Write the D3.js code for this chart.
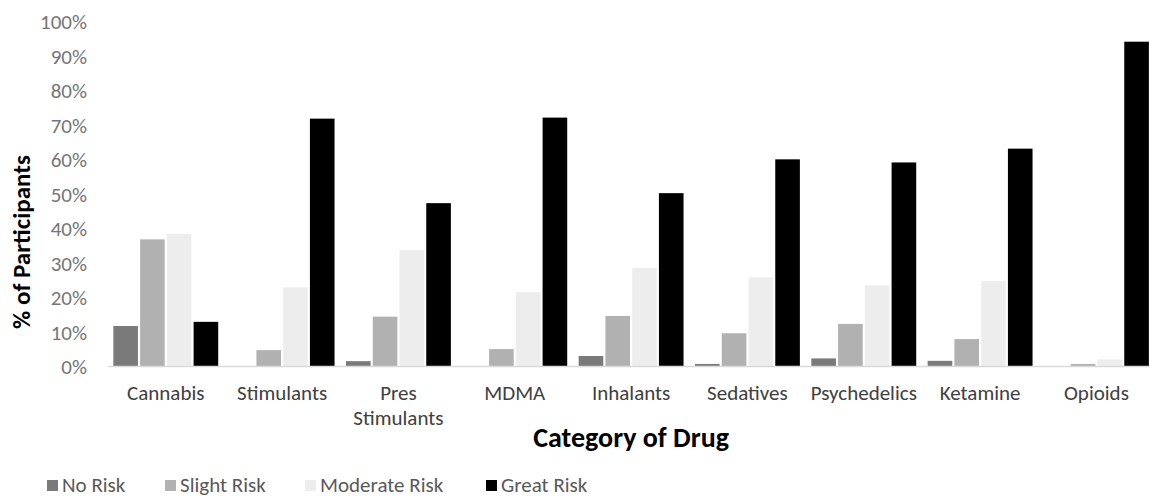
<!DOCTYPE html>
<html>
<head>
<meta charset="utf-8">
<script src="https://cdn.jsdelivr.net/npm/d3@7"></script>
<style>
  html, body { margin: 0; padding: 0; background: #fff; }
  svg { display: block; }
  text { font-family: Carlito, Calibri, Lato, sans-serif; }
</style>
</head>
<body>
<svg id="chart" width="1150" height="497"></svg>
<script>
const categories = ["Cannabis", "Stimulants", "Pres Stimulants", "MDMA", "Inhalants", "Sedatives", "Psychedelics", "Ketamine", "Opioids"];
const categoryLines = [["Cannabis"], ["Stimulants"], ["Pres", "Stimulants"], ["MDMA"], ["Inhalants"], ["Sedatives"], ["Psychedelics"], ["Ketamine"], ["Opioids"]];
const seriesNames = ["No Risk", "Slight Risk", "Moderate Risk", "Great Risk"];
const noRisk       = [11.6, 0.0, 1.4, 0.0, 2.9, 0.6, 2.2, 1.5, 0.0];
const slightRisk   = [36.7, 4.6, 14.3, 4.9, 14.5, 9.5, 12.2, 7.8, 0.6];
const moderateRisk = [38.3, 22.8, 33.6, 21.4, 28.4, 25.7, 23.4, 24.6, 1.9];
const greatRisk    = [12.8, 71.7, 47.2, 72.0, 50.1, 59.9, 59.0, 63.0, 94.0];
const yTicks = [0, 10, 20, 30, 40, 50, 60, 70, 80, 90, 100];
const seriesColors = ["#7a7a7a", "#b1b1b1", "#ededed", "#000000"];

const seriesValues = [noRisk, slightRisk, moderateRisk, greatRisk];
const svg = d3.select("#chart");

const x0 = d3.scaleBand().domain(categories).range([107.6, 1154.6]).padding(0);
const x1 = d3.scaleBand().domain(seriesNames)
  .range([x0.bandwidth() * 0.04, x0.bandwidth() * 0.96])
  .paddingInner(0.08).paddingOuter(0.04);
const y = d3.scaleLinear().domain([0, 100]).range([366, 21]);

// y tick labels
const yAxis = d3.axisLeft(y).tickValues(yTicks).tickFormat(d => d + "%").tickSize(0).tickPadding(0);
const gy = svg.append("g").attr("transform", "translate(87,0)").call(yAxis);
gy.select(".domain").remove();
gy.selectAll("text").attr("font-size", 21).attr("fill", "#767676")
  .style("font-family", "Carlito, Calibri, Lato, sans-serif").attr("dy", "0.38em");

// bars
const groups = svg.append("g").selectAll("g")
  .data(categories).join("g")
  .attr("transform", d => `translate(${x0(d)},0)`);
groups.selectAll("rect")
  .data((c, i) => seriesNames.map((s, j) => ({ s, j, v: seriesValues[j][i] })))
  .join("rect")
  .attr("x", d => x1(d.s))
  .attr("width", x1.bandwidth())
  .attr("y", d => y(d.v))
  .attr("height", d => y(0) - y(d.v))
  .attr("fill", d => seriesColors[d.j]);

// baseline
const xAxis = d3.axisBottom(x0).tickSize(0).tickFormat("");
const gx = svg.append("g").attr("transform", `translate(0,${y(0)})`).call(xAxis);
gx.select(".domain").attr("stroke", "#d9d9d9").attr("stroke-width", 1.5);

// x tick labels
const xl = svg.append("g").selectAll("text")
  .data(categories).join("text")
  .attr("x", d => x0(d) + x0.bandwidth() / 2)
  .attr("y", 400)
  .attr("text-anchor", "middle")
  .attr("font-size", 21)
  .attr("fill", "#404040");
xl.each(function(d, i) {
  const t = d3.select(this);
  categoryLines[i].forEach((line, k) => {
    t.append("tspan").attr("x", x0(d) + x0.bandwidth() / 2).attr("dy", k === 0 ? 0 : 25).text(line);
  });
});

// axis titles
svg.append("text")
  .attr("x", (107.6 + 1154.6) / 2).attr("y", 447)
  .attr("text-anchor", "middle")
  .attr("font-size", 28).attr("font-weight", "bold").attr("fill", "#000")
  .text("Category of Drug");
svg.append("text")
  .attr("transform", "translate(30,242) rotate(-90)")
  .attr("text-anchor", "middle")
  .attr("font-size", 25).attr("font-weight", "bold").attr("fill", "#000")
  .text("% of Participants");

// legend
const legendX = [47, 165, 305, 486];
const lg = svg.append("g").selectAll("g").data(seriesNames).join("g")
  .attr("transform", (d, i) => `translate(${legendX[i]},480)`);
lg.append("rect").attr("width", 11).attr("height", 11).attr("y", 0)
  .attr("fill", (d, i) => seriesColors[i]);
lg.append("text").attr("x", 15).attr("y", 12).attr("font-size", 21).attr("fill", "#595959").text(d => d);
</script>
</body>
</html>
